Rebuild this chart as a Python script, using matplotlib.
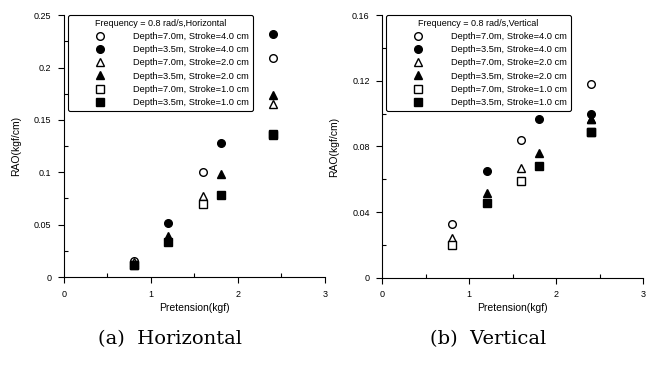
import matplotlib
matplotlib.use('Agg')
import matplotlib.pyplot as plt
from matplotlib.ticker import MultipleLocator, FuncFormatter

plt.rcParams['font.family'] = ['Liberation Sans', 'DejaVu Sans']

# Series labels and marker styles (open = Depth 7.0m, filled = Depth 3.5m)
labels = ['Depth=7.0m, Stroke=4.0 cm', 'Depth=3.5m, Stroke=4.0 cm',
          'Depth=7.0m, Stroke=2.0 cm', 'Depth=3.5m, Stroke=2.0 cm',
          'Depth=7.0m, Stroke=1.0 cm', 'Depth=3.5m, Stroke=1.0 cm']
markers = ['o', 'o', '^', '^', 's', 's']
filled = [False, True, False, True, False, True]

# Horizontal RAO
h_x = [[0.8, 1.6, 2.4], [1.2, 1.8, 2.4],
       [0.8, 1.6, 2.4], [1.2, 1.8, 2.4],
       [0.8, 1.6, 2.4], [0.8, 1.2, 1.8, 2.4]]
h_y = [[0.015, 0.100, 0.209], [0.052, 0.128, 0.232],
       [0.014, 0.077, 0.165], [0.039, 0.098, 0.174],
       [0.012, 0.070, 0.137], [0.012, 0.033, 0.078, 0.136]]

# Vertical RAO
v_x = [[0.8, 1.6, 2.4], [1.2, 1.8, 2.4],
       [0.8, 1.6, 2.4], [1.2, 1.8, 2.4],
       [0.8, 1.6, 2.4], [1.2, 1.8, 2.4]]
v_y = [[0.033, 0.084, 0.118], [0.065, 0.0965, 0.100],
       [0.024, 0.067, 0.097], [0.0515, 0.076, 0.097],
       [0.020, 0.059, 0.089], [0.0455, 0.068, 0.089]]


def fmt(v, pos):
    s = ('%.3f' % v).rstrip('0').rstrip('.')
    return s


def draw_panel(ax, xs, ys, ymax, ystep, title, caption):
    for i in range(len(labels)):
        ax.plot(xs[i], ys[i], linestyle='none', marker=markers[i], ms=5.5,
                mec='black', mew=1.0,
                mfc='black' if filled[i] else 'white', label=labels[i])
    ax.set_xlim(0, 3)
    ax.set_ylim(0, ymax)
    ax.xaxis.set_major_locator(MultipleLocator(1))
    ax.xaxis.set_minor_locator(MultipleLocator(0.5))
    ax.yaxis.set_major_locator(MultipleLocator(ystep))
    ax.yaxis.set_minor_locator(MultipleLocator(ystep / 2))
    ax.yaxis.set_major_formatter(FuncFormatter(fmt))
    ax.tick_params(which='major', direction='out', length=4, labelsize=6.5, width=0.8, pad=5)
    ax.tick_params(which='minor', direction='in', length=3, width=0.8)
    for s in ['top', 'right']:
        ax.spines[s].set_visible(False)
    ax.set_xlabel('Pretension(kgf)', fontsize=7.5, labelpad=3)
    ax.set_ylabel('RAO(kgf/cm)', fontsize=7.5, labelpad=9)
    leg = ax.legend(loc='upper left', bbox_to_anchor=(0.015, 1.0), borderaxespad=0,
                    title=title, title_fontsize=6.5, fontsize=6.7, alignment='center',
                    handlelength=6, handletextpad=0.6, labelspacing=0.45,
                    borderpad=0.4, fancybox=True, framealpha=1, edgecolor='black')
    leg.get_frame().set_linewidth(0.8)
    ax.text(0.405, -0.235, caption, transform=ax.transAxes, ha='center', va='center',
            fontsize=14, family='DejaVu Serif')


fig = plt.figure(figsize=(6.59, 3.78), dpi=100)
ax1 = fig.add_axes([0.0971, 0.267, 0.396, 0.693])
ax2 = fig.add_axes([0.580, 0.265, 0.396, 0.695])

draw_panel(ax1, h_x, h_y, 0.25, 0.05, 'Frequency = 0.8 rad/s,Horizontal', '(a)  Horizontal')
draw_panel(ax2, v_x, v_y, 0.16, 0.04, 'Frequency = 0.8 rad/s,Vertical', '(b)  Vertical')

fig.savefig('out.png', dpi=100)
